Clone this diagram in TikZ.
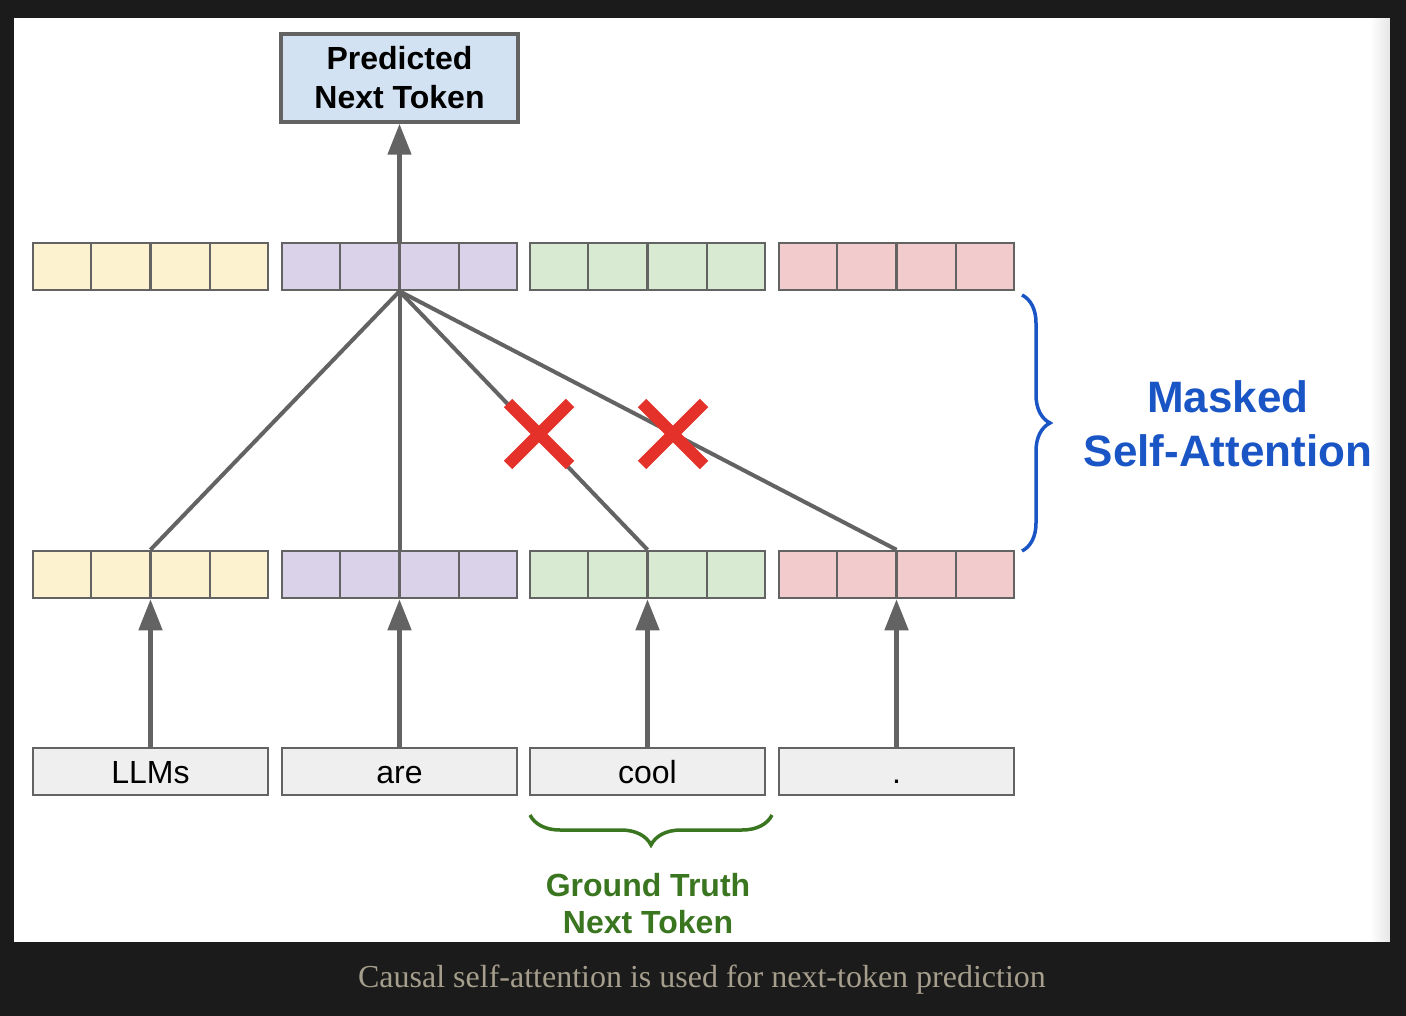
\documentclass[tikz,border=0pt]{standalone}
\usepackage{fontspec}
\setmainfont{Liberation Sans}
\newfontfamily\capfont{Liberation Serif}
\usetikzlibrary{arrows.meta,shapes.misc,decorations.pathreplacing,calc}
\definecolor{bgdark}{HTML}{1B1B1B}
\definecolor{edge}{HTML}{636363}
\definecolor{yel}{HTML}{FDF2D0}
\definecolor{pur}{HTML}{D9D2E9}
\definecolor{grn}{HTML}{D9EAD3}
\definecolor{pnk}{HTML}{F2CCCC}
\definecolor{tokfill}{HTML}{EFEFEF}
\definecolor{predfill}{HTML}{D3E2F2}
\definecolor{mblue}{HTML}{1A55C6}
\definecolor{ggreen}{HTML}{3A7520}
\definecolor{xred}{HTML}{E4322A}
\definecolor{captxt}{HTML}{A69E8C}
\begin{document}
\begin{tikzpicture}[x=1pt, y=-1pt,
  cellrow/.style={draw=edge, line width=2.5pt, minimum width=235pt, minimum height=47pt, inner sep=0pt},
  tokbox/.style={cellrow, fill=tokfill, text height=23pt, text depth=0pt, font=\fontsize{32}{38}\selectfont},
  flow/.style={draw=edge, line width=4.7pt, -{Triangle[length=31pt,width=23pt]}},
  attn/.style={draw=edge, line width=4pt},
  nope/.style={cross out, draw=xred, line width=12pt, minimum size=50pt, inner sep=0pt},
  curly/.style={decorate, decoration={brace, amplitude=#1}, line width=3.5pt}]
    \useasboundingbox (0,0) rectangle (1406,1016);
    \fill[bgdark] (0,0) rectangle (1406,1016);
    \fill[white] (14,18) rectangle (1390,942);
    \foreach \s [evaluate=\s as \g using \s/2] in {0,...,19}
        \fill[black!\g] (1370+\s,18) rectangle (1371.2+\s,942);
    % output
    \node[draw=edge, line width=3.5pt, fill=predfill, minimum width=237pt, minimum height=88pt, align=center,
          font=\fontsize{32}{39}\selectfont\bfseries] (pred) at (399.5,78) {Predicted\\Next Token};
    % embedding rows
    \foreach \c/\x [count=\i] in {yel/150.5, pur/399.5, grn/647.5, pnk/896.5} {
        \node[cellrow, fill=\c] (out\i) at (\x,266.5) {};
        \node[cellrow, fill=\c] (emb\i) at (\x,574.5) {};
        \foreach \k in {1,2,3} {
            \draw[edge, line width=2.5pt] ($(out\i.south west)!\k/4!(out\i.south east)$) -- ($(out\i.north west)!\k/4!(out\i.north east)$);
            \draw[edge, line width=2.5pt] ($(emb\i.south west)!\k/4!(emb\i.south east)$) -- ($(emb\i.north west)!\k/4!(emb\i.north east)$);
        }
    }
    % input tokens
    \foreach \t/\x [count=\i] in {LLMs/150.5, are/399.5, cool/647.5, ./896.5} {
        \node[tokbox] (tok\i) at (\x,771.5) {\t};
        \draw[flow] (tok\i) -- (emb\i);
        \draw[attn] (out2.south) -- (emb\i.north);
    }
    \draw[flow] (out2) -- (pred);
    % masked links
    \node[nope] (cut3) at (539,434) {};
    \node[nope] (cut4) at (673,434) {};
    % braces
    \coordinate (mtop) at (1022,295);
    \coordinate (mbot) at (1022,551);
    \draw[curly=28pt, mblue] (mtop) -- (mbot);
    \coordinate (gl) at (530,815);
    \coordinate (gr) at (772,815);
    \draw[curly=30pt, ggreen, decoration={mirror}] (gl) -- (gr);
    \node[font=\fontsize{44}{54}\selectfont\bfseries, text=mblue, align=center] (mask) at (1228,424) {Masked\\Self-Attention};
    \node[font=\fontsize{32}{37}\selectfont\bfseries, text=ggreen, align=center] (truth) at (648,904) {Ground Truth\\Next Token};
    \node[font=\capfont\fontsize{32}{38}\selectfont, text=captxt, anchor=base] (cap) at (702,987) {Causal self-attention is used for next-token prediction};
\end{tikzpicture}
\end{document}
